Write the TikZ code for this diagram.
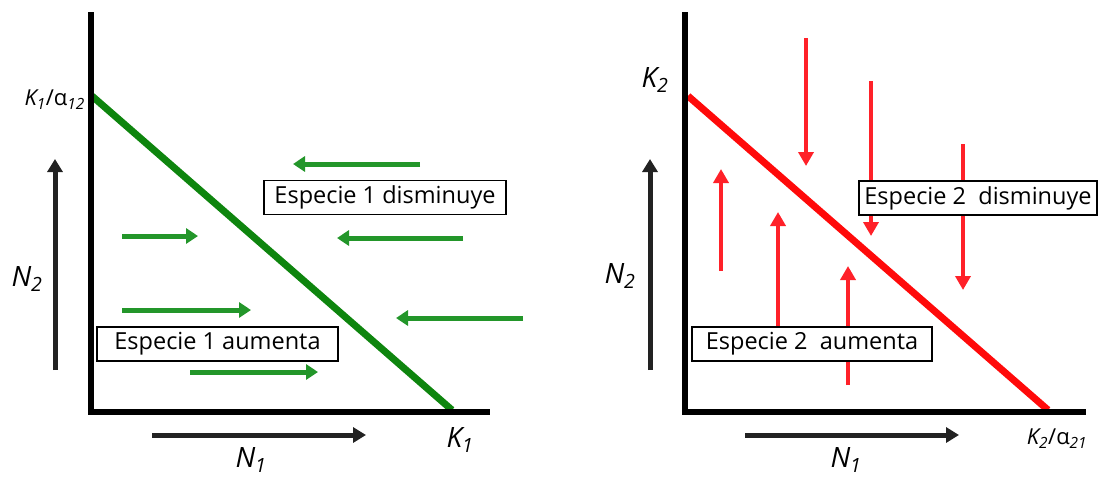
\documentclass[tikz,border=0pt]{standalone}
\usepackage{fontspec}
\setmainfont{Open Sans}
\usetikzlibrary{arrows.meta}
\definecolor{greenx}{HTML}{23962A}
\definecolor{greenln}{HTML}{0E850E}
\definecolor{redx}{HTML}{FF2129}
\definecolor{redln}{HTML}{FF0A0A}
\definecolor{inkx}{HTML}{222222}
\tikzset{
  axis/.style={line width=6pt,black},
  dirar/.style={-{Triangle[length=13pt,width=15pt]},line width=5pt,inkx},
  gar/.style={-{Triangle[length=12pt,width=15pt]},line width=5pt,greenx},
  rar/.style={-{Triangle[length=14pt,width=15pt]},line width=4pt,redx},
  tag/.style={draw,line width=1.5pt,fill=white,inner sep=0pt,minimum height=34pt,
    font=\fontsize{23.5}{26}\selectfont},
  lbl/.style={font=\fontsize{28}{32}\selectfont\itshape,inner sep=0pt},
  slbl/.style={font=\fontsize{22}{25}\selectfont,inner sep=0pt}
}
\begin{document}
\begin{tikzpicture}[x=1pt,y=-1pt]
\useasboundingbox (0,0) rectangle (1099,479);
% left panel: species 1
\foreach \xa/\xb/\yy in {420/293/164,463/337/238,523/396/318}
  \draw[gar] (\xa,\yy)--(\xb,\yy);
\foreach \xa/\xb/\yy in {122/198/236,122/251/310,190/318/372}
  \draw[gar] (\xa,\yy)--(\xb,\yy);
\draw[line width=7pt,greenln] (92,96)--(452,410);
\draw[axis] (91,12)--(91,415);
\draw[axis] (88,412)--(490,412);
\draw[dirar] (55,370)--(55,159);
\draw[dirar] (152,435)--(366,435);
\node[tag,minimum width=242pt] (dis1) at (385,197.5) {Especie 1 disminuye};
\node[tag,minimum width=241pt] (aum1) at (217.5,344) {Especie 1 aumenta};
\node[slbl,anchor=east] (k1a) at (85,100) {\itshape K\textsubscript{1}\upshape/α\textsubscript{\itshape 12}};
\node[lbl] (k1) at (460,440) {K\textsubscript{1}};
\node[lbl] (n2l) at (27,279) {N\textsubscript{2}};
\node[lbl] (n1l) at (251,460) {N\textsubscript{1}};
% right panel: species 2
\foreach \xx/\ya/\yb in {806/38/166,871/81/236,963/144/290}
  \draw[rar] (\xx,\ya)--(\xx,\yb);
\foreach \xx/\ya/\yb in {721/271/169,778/335/212,848/385/266}
  \draw[rar] (\xx,\ya)--(\xx,\yb);
\draw[line width=7pt,redln] (688,96)--(1048,410);
\draw[axis] (685,12)--(685,415);
\draw[axis] (682,412)--(1086,412);
\draw[dirar] (650,370)--(650,159);
\draw[dirar] (745,435)--(959,435);
\node[tag,minimum width=238pt] (dis2) at (978,198) {Especie 2~ disminuye};
\node[tag,minimum width=240pt] (aum2) at (812,344) {Especie 2~ aumenta};
\node[lbl] (k2) at (655,80) {K\textsubscript{2}};
\node[slbl] (k2a) at (1057,439) {\itshape K\textsubscript{2}\upshape/α\textsubscript{\itshape 21}};
\node[lbl] (n2r) at (620,276) {N\textsubscript{2}};
\node[lbl] (n1r) at (846,460) {N\textsubscript{1}};
\end{tikzpicture}
\end{document}
